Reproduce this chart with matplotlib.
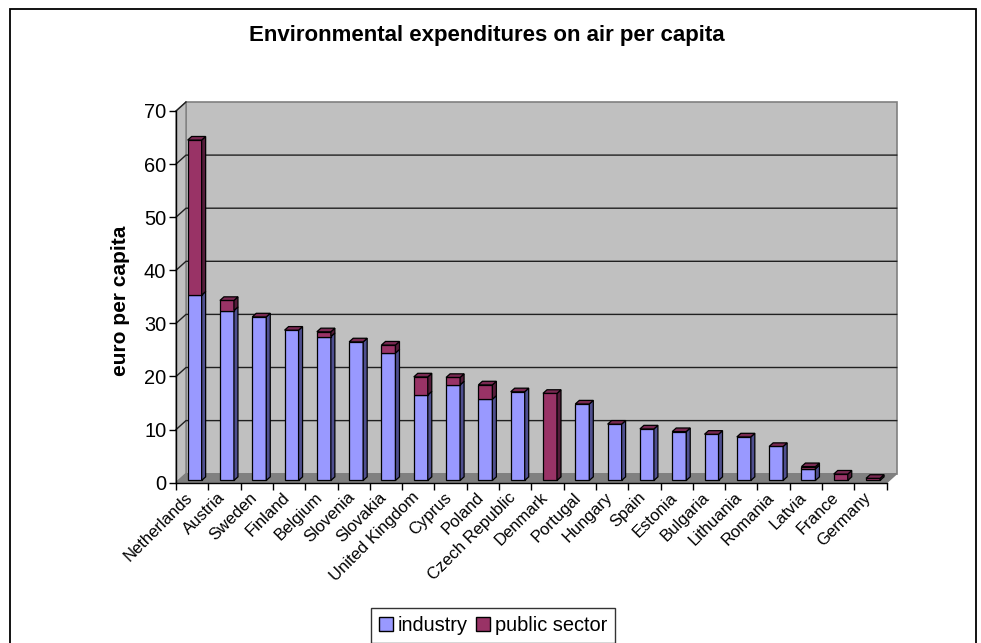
import numpy as np
import matplotlib.pyplot as plt
import matplotlib.transforms as mtransforms
from matplotlib.patches import Polygon, Rectangle, Patch

plt.rcParams['font.family'] = ['Liberation Sans', 'DejaVu Sans']

countries = ['Netherlands', 'Austria', 'Sweden', 'Finland', 'Belgium', 'Slovenia',
             'Slovakia', 'United Kingdom', 'Cyprus', 'Poland', 'Czech Republic',
             'Denmark', 'Portugal', 'Hungary', 'Spain', 'Estonia', 'Bulgaria',
             'Lithuania', 'Romania', 'Latvia', 'France', 'Germany']
industry = [34.9, 32.0, 30.8, 28.3, 27.1, 26.1, 24.0, 16.1, 18.0, 15.3, 16.7,
            0.0, 14.4, 10.6, 9.7, 9.2, 8.7, 8.2, 6.4, 2.2, 0.0, 0.0]
public = [29.2, 1.9, 0.0, 0.0, 0.9, 0.0, 1.5, 3.4, 1.4, 2.7, 0.0,
          16.4, 0.0, 0.0, 0.0, 0.0, 0.0, 0.0, 0.0, 0.4, 1.2, 0.4]
y_ticks = [0, 10, 20, 30, 40, 50, 60, 70]

# colours (Excel 2003 style)
ind_front, ind_side = '#9999ff', '#4f4f8f'
pub_front, pub_side, pub_top = '#993366', '#551c3a', '#7a2952'
wall_col, floor_col = '#c0c0c0', '#808080'

W, H = 981, 643
fig = plt.figure(figsize=(W / 100, H / 100), dpi=100)

# front plane of the plot in pixels
px0, px1 = 176, 886.7
py0, py1 = 482.7, 111
ax = fig.add_axes([px0 / W, 1 - py0 / H, (px1 - px0) / W, (py0 - py1) / H])
n = len(countries)
ax.set_xlim(-0.5, n - 0.5)
ax.set_ylim(0, 70)
ax.patch.set_visible(False)

# 3D depth offset, in data units
DX = 10 / ((px1 - px0) / n)
DY = 9 / ((py0 - py1) / 70)
xl, xr = -0.5, n - 0.5
ytop = y_ticks[-1]

# walls and floor
ax.add_patch(Polygon([(xl + DX, DY), (xr + DX, DY), (xr + DX, ytop + DY), (xl + DX, ytop + DY)],
                     closed=True, facecolor=wall_col, edgecolor='#808080', lw=1.2,
                     clip_on=False, zorder=0))
ax.add_patch(Polygon([(xl, 0), (xl + DX, DY), (xl + DX, ytop + DY), (xl, ytop)],
                     closed=True, facecolor=wall_col, edgecolor='#808080', lw=1.0,
                     clip_on=False, zorder=0))
ax.add_patch(Polygon([(xl, 0), (xr, 0), (xr + DX, DY), (xl + DX, DY)],
                     closed=True, facecolor=floor_col, edgecolor='#808080', lw=1.0,
                     clip_on=False, zorder=0.5))
for v in y_ticks[1:-1]:
    ax.plot([xl, xl + DX, xr + DX], [v, v + DY, v + DY], color='#202020', lw=1.0,
            clip_on=False, zorder=0.6)
ax.plot([xl, xl + DX], [ytop, ytop + DY], color='#202020', lw=1.0, clip_on=False, zorder=0.6)

# bars
f0, f1 = 0.25, 0.65
bw = 0.433
ddx, ddy = (f1 - f0) * DX, (f1 - f0) * DY
for i in range(n):
    cx = i + f0 * DX
    left, right = cx - bw / 2, cx + bw / 2
    base = f0 * DY
    for val, front, side in [(industry[i], ind_front, ind_side), (public[i], pub_front, pub_side)]:
        if val <= 0:
            continue
        ax.add_patch(Rectangle((left, base), bw, val, facecolor=front, edgecolor='black',
                               lw=0.9, zorder=2, clip_on=False))
        ax.add_patch(Polygon([(right, base), (right + ddx, base + ddy),
                              (right + ddx, base + val + ddy), (right, base + val)],
                             closed=True, facecolor=side, edgecolor='black', lw=0.9,
                             zorder=2, clip_on=False))
        base += val
    ax.add_patch(Polygon([(left, base), (right, base), (right + ddx, base + ddy),
                          (left + ddx, base + ddy)],
                         closed=True, facecolor=pub_top, edgecolor='black', lw=0.9,
                         zorder=2, clip_on=False))

# axes
for s in ['top', 'right']:
    ax.spines[s].set_visible(False)
for s in ['left', 'bottom']:
    ax.spines[s].set_color('black')
    ax.spines[s].set_linewidth(1.0)
    ax.spines[s].set_zorder(3)

ax.set_yticks(y_ticks)
ax.tick_params(axis='y', length=5, width=1, pad=2, labelsize=14.4, direction='out')

ax.set_xticks(np.arange(n))
ax.set_xticklabels(countries, rotation=45, ha='right', va='top',
                   rotation_mode='anchor', fontsize=12)
ax.tick_params(axis='x', which='major', length=0, pad=5)
ax.set_xticks(np.arange(n + 1) - 0.5, minor=True)
ax.tick_params(axis='x', which='minor', length=5, width=1, direction='out')
shift = mtransforms.ScaledTranslation(-7 / 100, 0, fig.dpi_scale_trans)
for lab in ax.get_xticklabels():
    lab.set_transform(lab.get_transform() + shift)

# texts
fig.text(487 / W, 1 - 36 / H, 'Environmental expenditures on air per capita',
         ha='center', va='center', fontsize=16, fontweight='bold')
fig.text(121 / W, 1 - 301 / H, 'euro per capita', rotation=90,
         ha='center', va='center', fontsize=15, fontweight='bold')

handles = [Patch(facecolor=ind_front, edgecolor='black', lw=1.0, label='industry'),
           Patch(facecolor=pub_front, edgecolor='black', lw=1.0, label='public sector')]
leg = fig.legend(handles=handles, ncol=2, loc='upper center',
                 bbox_to_anchor=(493 / W, 1 - 608 / H), fontsize=14.4,
                 frameon=True, fancybox=False, shadow=False, edgecolor='black',
                 handlelength=0.7, handleheight=0.7, handletextpad=0.25,
                 columnspacing=0.4, borderpad=0.4, borderaxespad=0)
leg.get_frame().set_linewidth(1.0)

# outer chart border
fig.patches.append(Rectangle((10 / W, -0.05), (975.5 - 10) / W, 1.05 - 9 / H,
                             transform=fig.transFigure, fill=False,
                             edgecolor='black', lw=1.3))

fig.savefig('out.png', dpi=100)
